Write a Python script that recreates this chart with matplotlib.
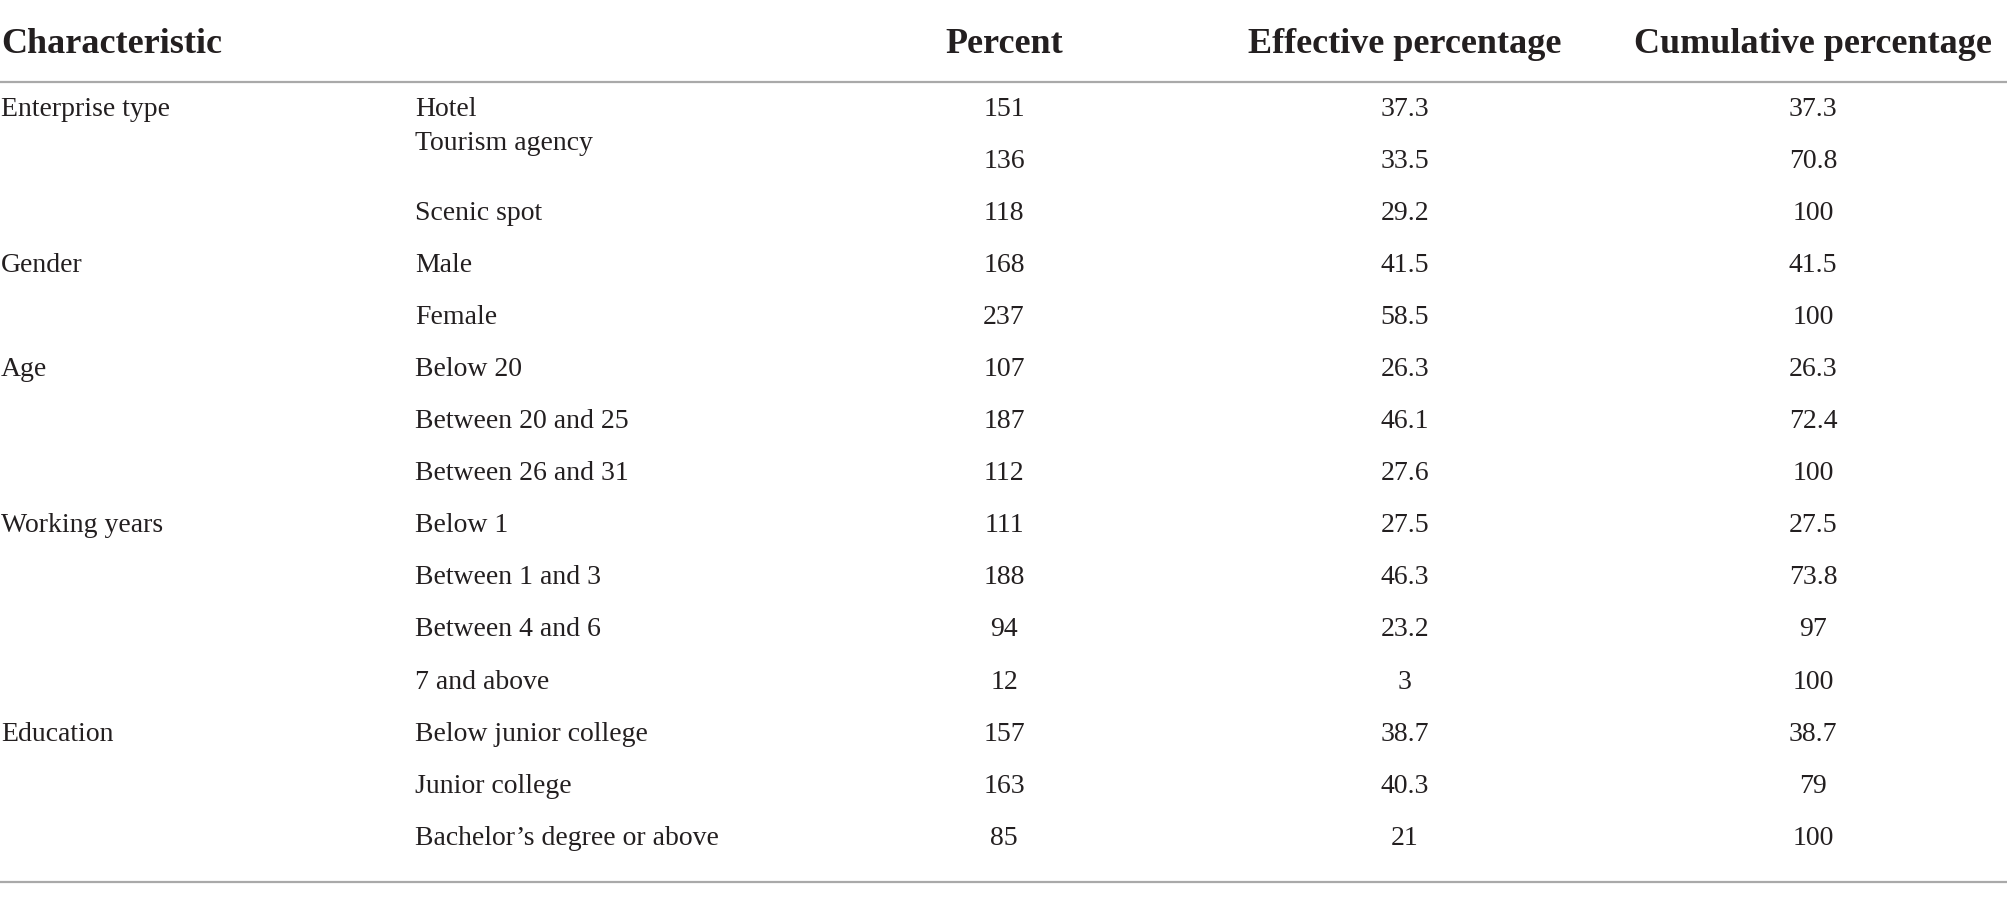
import matplotlib
matplotlib.use("Agg")
import matplotlib.pyplot as plt

# ---- table data ----
headers = ["Characteristic", "Percent", "Effective percentage", "Cumulative percentage"]
groups = ["Enterprise type", "", "", "Gender", "", "Age", "", "", "Working years", "", "", "",
          "Education", "", ""]
items = ["Hotel", "Tourism agency", "Scenic spot", "Male", "Female", "Below 20",
         "Between 20 and 25", "Between 26 and 31", "Below 1", "Between 1 and 3",
         "Between 4 and 6", "7 and above", "Below junior college", "Junior college",
         "Bachelor\u2019s degree or above"]
percent = ["151", "136", "118", "168", "237", "107", "187", "112", "111", "188", "94", "12",
           "157", "163", "85"]
effective = ["37.3", "33.5", "29.2", "41.5", "58.5", "26.3", "46.1", "27.6", "27.5", "46.3",
             "23.2", "3", "38.7", "40.3", "21"]
cumulative = ["37.3", "70.8", "100", "41.5", "100", "26.3", "72.4", "100", "27.5", "73.8",
              "97", "100", "38.7", "79", "100"]

# ---- layout (pixel units) ----
W, H = 2008, 897
txt_col = "#231f20"
line_col = "#a9a9a9"
x_group = 1
x_item = 415
x_num = [1004, 1405, 1813]
row0 = 108
row_h = 52.1
base_off = 7.5
head_base = 53
line_top = 82
line_bot = 882

fig = plt.figure(figsize=(W / 100, H / 100), dpi=100)
ax = fig.add_axes([0, 0, 1, 1])
ax.set_xlim(0, W)
ax.set_ylim(H, 0)
ax.axis("off")

serif = ["Liberation Serif", "DejaVu Serif"]

# header
ax.text(x_group, head_base, headers[0], ha="left", va="baseline", fontsize=26,
        fontweight="bold", family=serif, color=txt_col)
for x, h in zip(x_num, headers[1:]):
    ax.text(x, head_base, h, ha="center", va="baseline", fontsize=26,
            fontweight="bold", family=serif, color=txt_col)

ax.plot([0, W], [line_top, line_top], color=line_col, lw=1.6, solid_capstyle="butt")
ax.plot([0, W], [line_bot, line_bot], color=line_col, lw=1.6, solid_capstyle="butt")

# body rows
for i in range(len(items)):
    yb = row0 + i * row_h + base_off
    if groups[i]:
        ax.text(x_group, yb, groups[i], ha="left", va="baseline", fontsize=20,
                family=serif, color=txt_col)
    # "Tourism agency" sits higher in the source layout
    y_item = yb - 17.5 if items[i] == "Tourism agency" else yb
    ax.text(x_item, y_item, items[i], ha="left", va="baseline", fontsize=20,
            family=serif, color=txt_col)
    for x, col in zip(x_num, [percent, effective, cumulative]):
        ax.text(x, yb, col[i], ha="center", va="baseline", fontsize=20,
                family=serif, color=txt_col)

fig.savefig("out.png", dpi=100)
